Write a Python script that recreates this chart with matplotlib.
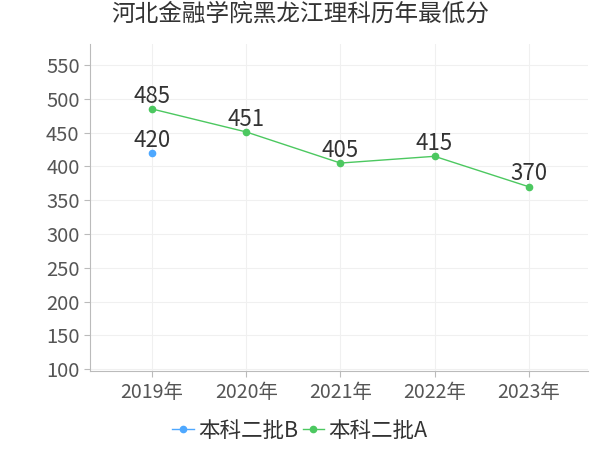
import matplotlib
matplotlib.use('Agg')
import matplotlib.pyplot as plt

plt.rcParams['font.family'] = ['Noto Sans CJK SC', 'DejaVu Sans']

years = ['2019年', '2020年', '2021年', '2022年', '2023年']
scores_a = [485, 451, 405, 415, 370]
scores_b_x = [0]
scores_b = [420]
yticks = [100, 150, 200, 250, 300, 350, 400, 450, 500, 550]

fig = plt.figure(figsize=(6, 4.5), dpi=100)
ax = fig.add_axes([0.15, 0.175, 0.83, 0.727])

xs = list(range(len(years)))
ax.plot(scores_b_x, scores_b, color='#4ea8ff', marker='o', markersize=4.5, linewidth=1, label='本科二批B')
ax.plot(xs, scores_a, color='#4cc860', marker='o', markersize=4.5, linewidth=1, label='本科二批A')

for x, y in zip(scores_b_x, scores_b):
    ax.text(x, y + 2, str(y), ha='center', va='bottom', fontsize=16, color='#333333')
for x, y in zip(xs, scores_a):
    ax.text(x, y + 2, str(y), ha='center', va='bottom', fontsize=16, color='#333333')

ax.set_xlim(-0.66, 4.63)
ax.set_ylim(97, 581)
ax.set_xticks(xs)
ax.set_xticklabels(years, fontsize=14, color='#555555')
ax.set_yticks(yticks)
ax.set_yticklabels([str(v) for v in yticks], fontsize=14.5, color='#555555')
ax.grid(True, color='#f0f0f0', linewidth=0.8)
ax.set_axisbelow(True)
for s in ['top', 'right']:
    ax.spines[s].set_visible(False)
ax.spines['left'].set_color('#bbbbbb')
ax.spines['bottom'].set_color('#bbbbbb')
ax.tick_params(axis='both', length=4, color='#bbbbbb')

fig.suptitle('河北金融学院黑龙江理科历年最低分', x=0.5, y=0.995, fontsize=17, color='#333333')
fig.legend(loc='lower center', bbox_to_anchor=(0.5, -0.025), ncol=2, frameon=False,
           fontsize=15.5, handlelength=1.0, handletextpad=0.2, columnspacing=0.2,
           labelcolor='#333333')

fig.savefig('out.png', dpi=100)
